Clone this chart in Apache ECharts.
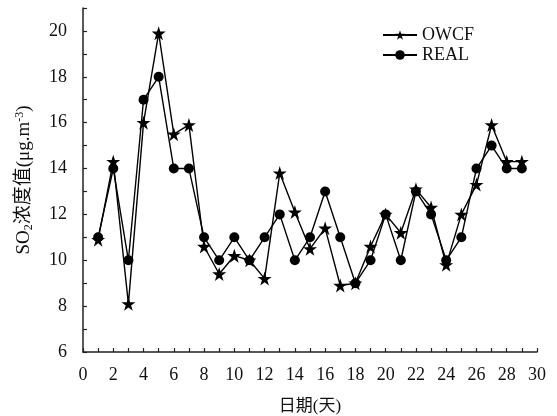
<!DOCTYPE html>
<html>
<head>
<meta charset="utf-8">
<script src="https://cdn.jsdelivr.net/npm/echarts@6/dist/echarts.min.js"></script>
<style>html,body{margin:0;padding:0;background:#fff}#c{width:557px;height:416px}</style>
</head>
<body>
<div id="c"></div>
<script>
var days = [1,2,3,4,5,6,7,8,9,10,11,12,13,14,15,16,17,18,19,20,21,22,23,24,25,26,27,28,29];
var owcf = [10.9,14.3,8.1,16.0,19.9,15.5,15.9,10.6,9.4,10.2,10.0,9.2,13.8,12.1,10.5,11.4,8.9,9.0,10.6,12.0,11.2,13.1,12.3,9.8,12.0,13.3,15.9,14.3,14.3];
var real = [11,14,10,17,18,14,14,11,10,11,10,11,12,10,11,13,11,9,10,12,10,13,12,10,11,14,15,14,14];
var xTickLabels = [0,2,4,6,8,10,12,14,16,18,20,22,24,26,28,30];
var yTickLabels = [6,8,10,12,14,16,18,20];

var FONT = "'Liberation Serif','Noto Sans CJK SC',serif";
function pairs(v){ return days.map(function(d,i){ return [d, v[i]]; }); }

var chart = echarts.init(document.getElementById('c'));
chart.setOption({
  backgroundColor: '#fff',
  animation: false,
  textStyle: {fontFamily: FONT, color: '#111'},
  grid: {left: 83, right: 20, top: 8, bottom: 64, containLabel: false, outerBoundsMode: 'none'},
  legend: {
    orient: 'vertical', left: 377, top: 21,
    itemWidth: 34, itemHeight: 12, itemGap: 2,
    textStyle: {fontFamily: FONT, fontSize: 18, color: '#111', lineHeight: 17},
    data: ['OWCF', 'REAL']
  },
  xAxis: {
    type: 'value', min: 0, max: 30, interval: 1,
    name: '日期(天)', nameLocation: 'middle', nameGap: 46,
    nameTextStyle: {fontFamily: FONT, fontSize: 17, color: '#111'},
    axisLine: {lineStyle: {color: '#222', width: 1.5}},
    axisTick: {inside: true, length: 4, lineStyle: {color: '#222', width: 1.2}},
    axisLabel: {margin: 14, fontSize: 18, color: '#111', fontFamily: FONT,
      formatter: function(v){ return xTickLabels.indexOf(v) >= 0 ? String(v) : ''; }},
    splitLine: {show: false}
  },
  yAxis: {
    type: 'value', min: 6, max: 21, interval: 1,
    name: '{a|SO}{sub|2}{a|浓度值(μg.m}{sup|-3}{a|)}',
    nameLocation: 'middle', nameGap: 48,
    nameTextStyle: {
      fontFamily: FONT, fontSize: 19, color: '#111',
      rich: {
        a: {fontFamily: FONT, fontSize: 19, color: '#111'},
        sub: {fontFamily: FONT, fontSize: 12, color: '#111', padding: [9,0,0,0]},
        sup: {fontFamily: FONT, fontSize: 12, color: '#111', padding: [0,0,9,0]}
      }
    },
    axisLine: {show: true, lineStyle: {color: '#222', width: 1.5}},
    axisTick: {show: true, inside: true, length: 4, lineStyle: {color: '#222', width: 1.2}},
    axisLabel: {margin: 16, fontSize: 18, color: '#111', fontFamily: FONT,
      formatter: function(v){ return yTickLabels.indexOf(v) >= 0 ? String(v) : ''; }},
    splitLine: {show: false}
  },
  series: [
    {
      name: 'OWCF', type: 'line', data: pairs(owcf),
      symbol: 'path://M50,0 L61.8,36.2 L100,36.2 L69.1,58.8 L80.9,95.1 L50,72.7 L19.1,95.1 L30.9,58.8 L0,36.2 L38.2,36.2 Z',
      symbolSize: 14, showAllSymbol: true,
      lineStyle: {color: '#000', width: 1.4},
      itemStyle: {color: '#000'}
    },
    {
      name: 'REAL', type: 'line', data: pairs(real),
      symbol: 'circle', symbolSize: 10, showAllSymbol: true,
      lineStyle: {color: '#000', width: 1.4},
      itemStyle: {color: '#000'}
    }
  ]
});
</script>
</body>
</html>
